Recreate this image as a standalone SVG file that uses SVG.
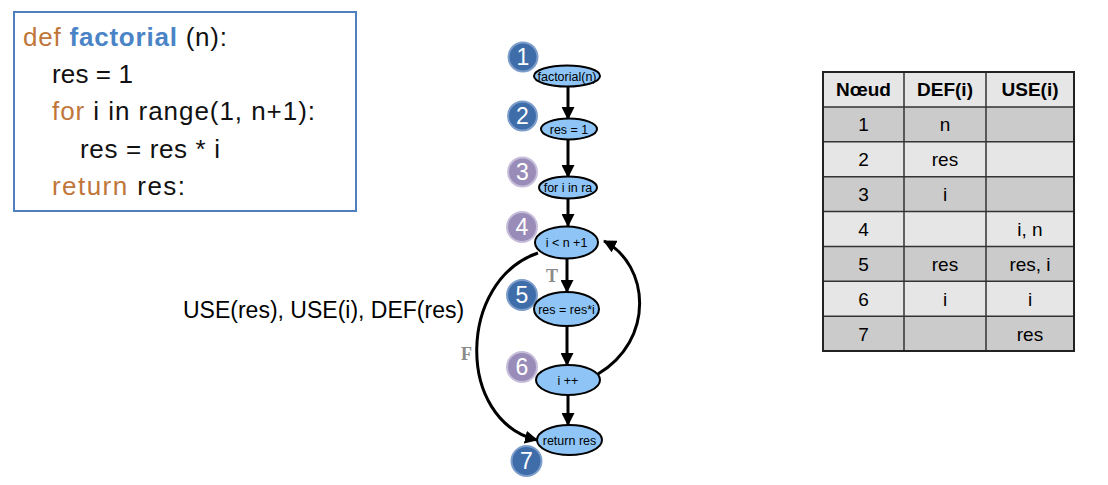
<svg xmlns="http://www.w3.org/2000/svg" width="1108" height="485" viewBox="0 0 1108 485">
<style>
.code{font-family:"Liberation Sans",Arial,sans-serif;font-size:26px;fill:#111}
.kw{fill:#c0763a}
.fn{fill:#4a84c6;font-weight:bold}
.ell{fill:#8ec5f6;stroke:#000;stroke-width:2}
.nt{font-family:"Liberation Sans",Arial,sans-serif;font-size:12.5px;fill:#000;text-anchor:middle}
.cb{fill:#3e6daa;stroke:#7d9ecb;stroke-width:2}
.cp{fill:#9a8cb8;stroke:#c6bdda;stroke-width:2}
.num{font-family:"Liberation Sans",Arial,sans-serif;font-size:23px;fill:#fff;text-anchor:middle}
.edge{fill:none;stroke:#000;stroke-width:3}
.lbl{font-family:"Liberation Serif","Times New Roman",serif;font-weight:bold;fill:#8a8a8a}
.tt{font-family:"Liberation Sans",Arial,sans-serif;font-size:19px;fill:#000;text-anchor:middle}
.th{font-weight:bold}
.rd{fill:#cbcbcb}
.rl{fill:#e6e6e6}
.grid{stroke:#333;stroke-width:1.5;fill:none}
</style>
<defs>
<marker id="ah" markerUnits="userSpaceOnUse" markerWidth="13" markerHeight="13" refX="12" refY="6.5" orient="auto">
<path d="M0,0 L13,6.5 L0,13 z" fill="#000"/>
</marker>
</defs>
<rect width="1108" height="485" fill="#fff"/>

<g id="code">
<rect x="14" y="12" width="342" height="199" fill="#fff" stroke="#4f7fbf" stroke-width="2"/>
<text class="code" x="23" y="46" textLength="204"><tspan class="kw">def</tspan> <tspan class="fn">factorial</tspan> (n):</text>
<text class="code" x="52" y="83" textLength="81">res = 1</text>
<text class="code" x="52" y="120" textLength="263"><tspan class="kw">for</tspan> i in range(1, n+1):</text>
<text class="code" x="80" y="158" textLength="140">res = res * i</text>
<text class="code" x="52" y="195" textLength="133"><tspan class="kw">return</tspan> res:</text>
</g>

<g id="connectors">
<line class="edge" x1="568" y1="86" x2="568" y2="119" marker-end="url(#ah)"/>
<line class="edge" x1="568" y1="139" x2="568" y2="177" marker-end="url(#ah)"/>
<line class="edge" x1="568" y1="198" x2="568" y2="226" marker-end="url(#ah)"/>
<line class="edge" x1="567" y1="259" x2="567" y2="292" marker-end="url(#ah)"/>
<line class="edge" x1="567" y1="326" x2="567" y2="365" marker-end="url(#ah)"/>
<line class="edge" x1="568" y1="395" x2="568" y2="425" marker-end="url(#ah)"/>
<path class="edge" d="M598,374 C655,340 650,265 604,241" marker-end="url(#ah)"/>
<path class="edge" d="M538,253 C458,280 455,420 537,440" marker-end="url(#ah)"/>
<text class="lbl" x="546" y="282" font-size="18">T</text>
<text class="lbl" x="461" y="360" font-size="18">F</text>
</g>

<text x="183" y="318" font-family="Liberation Sans,Arial,sans-serif" font-size="23" fill="#000">USE(res), USE(i), DEF(res)</text>

<g id="n1">
<circle class="cb" cx="523" cy="57" r="14.5"/>
<text class="num" x="523" y="65">1</text>
<ellipse class="ell" cx="567" cy="76" rx="33" ry="10.5"/>
<text class="nt" x="567" y="80.5">factorial(n)</text>
</g>
<g id="n2">
<circle class="cb" cx="522.5" cy="116" r="14.5"/>
<text class="num" x="522.5" y="124">2</text>
<ellipse class="ell" cx="569" cy="129" rx="28" ry="10.5"/>
<text class="nt" x="569" y="133.5">res = 1</text>
</g>
<g id="n3">
<circle class="cp" cx="522.5" cy="172" r="14.5"/>
<text class="num" x="522.5" y="180">3</text>
<ellipse class="ell" cx="568" cy="187.5" rx="29" ry="11"/>
<text class="nt" x="568" y="192">for i in ra</text>
</g>
<g id="n4">
<circle class="cp" cx="522" cy="227" r="15"/>
<text class="num" x="522" y="235">4</text>
<ellipse class="ell" cx="566.5" cy="242.5" rx="31.5" ry="16"/>
<text class="nt" x="566.5" y="247">i &lt; n +1</text>
</g>
<g id="n5">
<circle class="cb" cx="522" cy="295" r="15"/>
<text class="num" x="522" y="303">5</text>
<ellipse class="ell" cx="566.5" cy="309" rx="32.5" ry="17"/>
<text class="nt" x="566.5" y="313.5">res = res*i</text>
</g>
<g id="n6">
<circle class="cp" cx="522" cy="367" r="15"/>
<text class="num" x="522" y="375">6</text>
<ellipse class="ell" cx="568" cy="380" rx="32" ry="15"/>
<text class="nt" x="568" y="384.5">i ++</text>
</g>
<g id="n7">
<ellipse class="ell" cx="569.5" cy="440" rx="32.5" ry="15"/>
<text class="nt" x="569.5" y="444.5">return res</text>
<circle class="cb" cx="526.5" cy="461" r="15"/>
<text class="num" x="526.5" y="469">7</text>
</g>

<g id="table">
<rect x="823" y="72" width="251" height="35" class="rl"/>
<rect x="823" y="107" width="251" height="34.86" class="rd"/>
<rect x="823" y="141.86" width="251" height="34.86" class="rl"/>
<rect x="823" y="176.72" width="251" height="34.86" class="rd"/>
<rect x="823" y="211.58" width="251" height="34.86" class="rl"/>
<rect x="823" y="246.44" width="251" height="34.86" class="rd"/>
<rect x="823" y="281.3" width="251" height="34.86" class="rl"/>
<rect x="823" y="316.16" width="251" height="34.84" class="rd"/>
<path class="grid" d="M823,107H1074M823,141.86H1074M823,176.72H1074M823,211.58H1074M823,246.44H1074M823,281.3H1074M823,316.16H1074M904,72V351M986,72V351"/>
<rect x="823" y="72" width="251" height="279" fill="none" stroke="#222" stroke-width="2"/>
<text class="tt th" x="863.5" y="96">Nœud</text>
<text class="tt th" x="945" y="96">DEF(i)</text>
<text class="tt th" x="1030" y="96">USE(i)</text>
<text class="tt" x="863.5" y="131">1</text>
<text class="tt" x="945" y="131">n</text>
<text class="tt" x="863.5" y="166">2</text>
<text class="tt" x="945" y="166">res</text>
<text class="tt" x="863.5" y="201">3</text>
<text class="tt" x="945" y="201">i</text>
<text class="tt" x="863.5" y="236">4</text>
<text class="tt" x="1030" y="236">i, n</text>
<text class="tt" x="863.5" y="271">5</text>
<text class="tt" x="945" y="271">res</text>
<text class="tt" x="1030" y="271">res, i</text>
<text class="tt" x="863.5" y="305.5">6</text>
<text class="tt" x="945" y="305.5">i</text>
<text class="tt" x="1030" y="305.5">i</text>
<text class="tt" x="863.5" y="340.5">7</text>
<text class="tt" x="1030" y="340.5">res</text>
</g>
</svg>
